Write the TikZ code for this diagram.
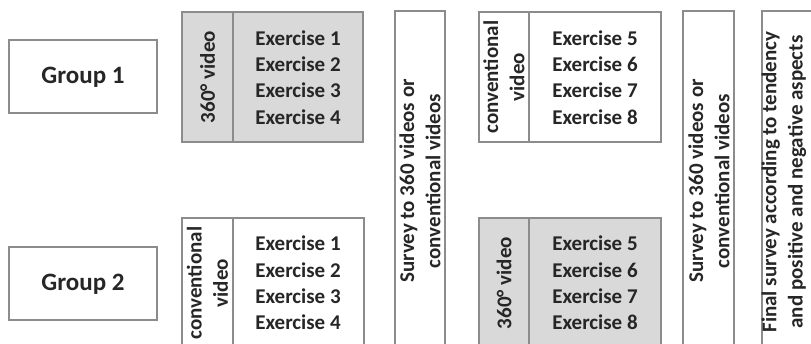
\documentclass[tikz,border=0pt]{standalone}
\usepackage{fontspec}
\setmainfont{Carlito}
\definecolor{edge}{HTML}{8C8C8C}
\definecolor{shade}{HTML}{D9D9D9}
\definecolor{ink}{HTML}{262626}
\begin{document}
\begin{tikzpicture}[x=1pt,y=-1pt,
  panel/.style={draw=edge, line width=1.2pt, inner sep=0pt},
  txt/.style={text=ink, font=\bfseries\fontsize{21}{26.2}\selectfont, align=center, inner sep=0pt},
  vtxt/.style={txt, rotate=90},
  grouptxt/.style={text=ink, font=\bfseries\fontsize{25}{30}\selectfont, inner sep=0pt}]
\useasboundingbox (0,0) rectangle (811,343);
\clip (0,0) rectangle (811,343);

% group labels
\draw[panel] (9,40) rectangle (157,113);
\node[grouptxt] (g1) at (83,77) {Group 1};
\draw[panel] (9,247) rectangle (157,320);
\node[grouptxt] (g2) at (83,284) {Group 2};

% first session, group 1: 360 video
\draw[panel, fill=shade] (182,12) rectangle (363,142);
\draw[edge, line width=1.2pt] (233,12) -- (233,142);
\node[vtxt] (v11) at (207.5,77) {360° video};
\node[txt] (e11) at (298,77.5) {Exercise 1\\Exercise 2\\Exercise 3\\Exercise 4};

% first session, group 2: conventional video
\draw[panel] (182,218) rectangle (364,348);
\draw[edge, line width=1.2pt] (233,218) -- (233,348);
\node[vtxt] (v21) at (207.5,283) {conventional\\video};
\node[txt] (e21) at (298,283) {Exercise 1\\Exercise 2\\Exercise 3\\Exercise 4};

% first survey
\draw[panel] (395,11) rectangle (445,352);
\node[vtxt] (s1) at (420,181) {Survey to 360 videos or\\conventional videos};

% second session, group 1: conventional video
\draw[panel] (479,12) rectangle (661,142);
\draw[edge, line width=1.2pt] (529,12) -- (529,142);
\node[vtxt] (v12) at (504,77) {conventional\\video};
\node[txt] (e12) at (595,77.5) {Exercise 5\\Exercise 6\\Exercise 7\\Exercise 8};

% second session, group 2: 360 video
\draw[panel, fill=shade] (479,218) rectangle (661,348);
\draw[edge, line width=1.2pt] (529,218) -- (529,348);
\node[vtxt] (v22) at (504,283) {360° video};
\node[txt] (e22) at (595,283) {Exercise 5\\Exercise 6\\Exercise 7\\Exercise 8};

% second survey
\draw[panel] (683,11) rectangle (734,352);
\node[vtxt] (s2) at (709,181) {Survey to 360 videos or\\conventional videos};

% final survey
\draw[panel] (762,11) rectangle (814,352);
\node[vtxt] (s3) at (784,182) {Final survey according to tendency\\and positive and negative aspects};
\end{tikzpicture}
\end{document}
